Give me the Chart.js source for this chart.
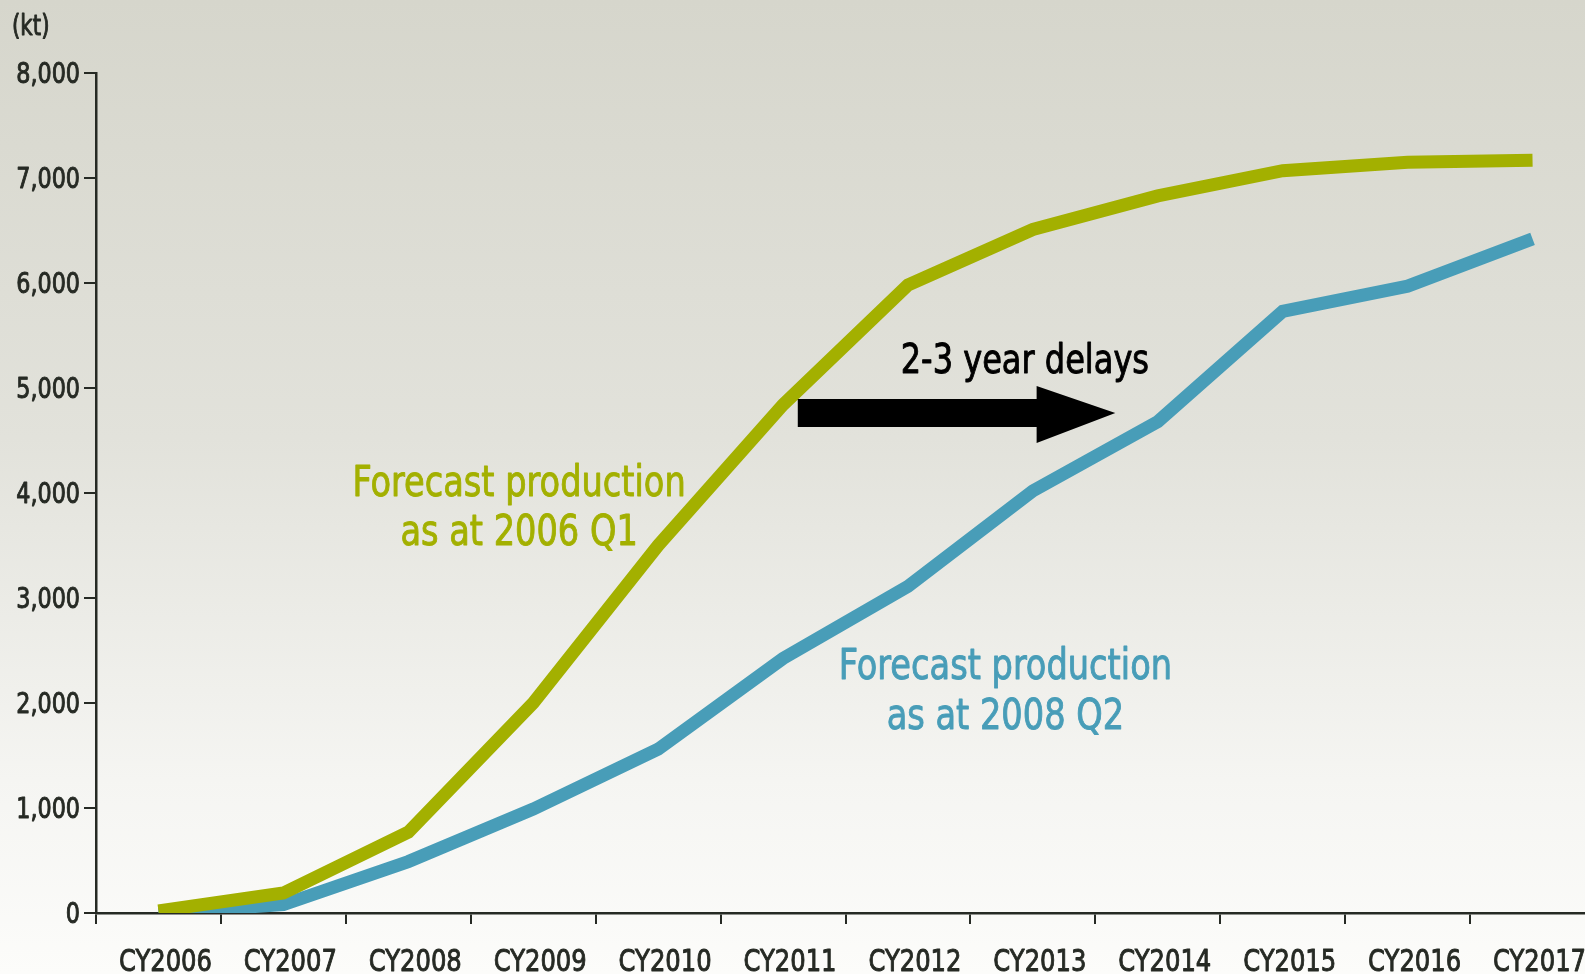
<!DOCTYPE html>
<html>
<head>
<meta charset="utf-8">
<script src="https://cdn.jsdelivr.net/npm/chart.js@4.4.1/dist/chart.umd.min.js"></script>
<style>
  html, body { margin: 0; padding: 0; overflow: hidden; }
  body {
    width: 1585px; height: 974px;
    background: linear-gradient(to bottom, #d6d6cc 0%, #e2e2db 45%, #f5f5f2 80%, #fcfcfa 100%);
  }
  #wrap { position: relative; width: 1595px; height: 974px; }
</style>
</head>
<body>
<div id="wrap"><canvas id="chart"></canvas></div>
<script>
const years = ["CY2006", "CY2007", "CY2008", "CY2009", "CY2010", "CY2011",
               "CY2012", "CY2013", "CY2014", "CY2015", "CY2016", "CY2017"];
// kt
const forecast2006Q1 = [20, 190, 770, 2000, 3500, 4840, 5980, 6510, 6830, 7070, 7150, 7170];
const forecast2008Q2 = [0, 80, 490, 990, 1560, 2425, 3110, 4020, 4680, 5730, 5970, 6420];
const yTicks = [0, 1000, 2000, 3000, 4000, 5000, 6000, 7000, 8000];

const FONT = "'DejaVu Sans Condensed', 'Liberation Sans Narrow', sans-serif";
const GREEN = "#a3b000";
const BLUE = "#489db8";
const INK = "#262a24";

// the original uses a tall, slightly heavy condensed face: squeeze and thicken a bit
function squeezed(ctx, text, x, y, sx, align) {
  ctx.save();
  ctx.translate(x, y);
  ctx.scale(sx, 1);
  ctx.textAlign = align;
  ctx.strokeStyle = ctx.fillStyle;
  ctx.lineWidth = 0.9;
  ctx.lineJoin = "round";
  ctx.fillText(text, 0, 0);
  ctx.strokeText(text, 0, 0);
  ctx.restore();
}

const notes = {
  id: "notes",
  afterDatasetsDraw(chart) {
    const { ctx, scales: { x, y } } = chart;
    const X = v => x.getPixelForValue(v);
    const Y = v => y.getPixelForValue(v);
    ctx.save();
    ctx.textBaseline = "alphabetic";

    // tick labels
    ctx.fillStyle = INK;
    ctx.font = "31px " + FONT;
    x.ticks.forEach((t, i) => squeezed(ctx, years[i], x.getPixelForTick(i) + 7, 971, 0.87, "center"));
    ctx.font = "27.5px " + FONT;
    y.ticks.forEach((t, i) => squeezed(ctx, t.value.toLocaleString("en-US"), 80, y.getPixelForTick(i) + 10, 0.9, "right"));

    ctx.font = "28px " + FONT;
    squeezed(ctx, "(kt)", 12, 35, 0.85, "left");

    ctx.font = "42px " + FONT;
    ctx.fillStyle = GREEN;
    squeezed(ctx, "Forecast production", X(2.887), Y(3971), 0.89, "center");
    squeezed(ctx, "as at 2006 Q1", X(2.887), Y(3505), 0.89, "center");
    ctx.fillStyle = BLUE;
    squeezed(ctx, "Forecast production", X(6.78), Y(2229), 0.89, "center");
    squeezed(ctx, "as at 2008 Q2", X(6.78), Y(1752), 0.89, "center");
    ctx.fillStyle = "#000";
    ctx.font = "40px " + FONT;
    squeezed(ctx, "2-3 year delays", X(6.936), Y(5143), 0.89, "center");

    // arrow
    ctx.beginPath();
    ctx.moveTo(X(5.118), Y(4895));
    ctx.lineTo(X(7.03), Y(4895));
    ctx.lineTo(X(7.03), Y(5019));
    ctx.lineTo(X(7.66), Y(4762));
    ctx.lineTo(X(7.03), Y(4476));
    ctx.lineTo(X(7.03), Y(4629));
    ctx.lineTo(X(5.118), Y(4629));
    ctx.closePath();
    ctx.fill();
    ctx.restore();
  }
};

new Chart(document.getElementById("chart"), {
  type: "line",
  data: {
    labels: years,
    datasets: [
      { label: "Forecast production as at 2006 Q1", data: forecast2006Q1, borderColor: GREEN },
      { label: "Forecast production as at 2008 Q2", data: forecast2008Q2, borderColor: BLUE }
    ]
  },
  options: {
    responsive: true,
    maintainAspectRatio: false,
    animation: false,
    layout: { padding: { top: 73, right: 0, bottom: 0, left: 0 } },
    elements: {
      line: { borderWidth: 13, tension: 0, borderJoinStyle: "miter", borderCapStyle: "butt" },
      point: { radius: 0 }
    },
    plugins: { legend: { display: false }, tooltip: { enabled: false } },
    scales: {
      x: {
        offset: true,
        grid: { offset: true, drawOnChartArea: false, tickLength: 11, color: INK, lineWidth: 2 },
        border: { color: INK, width: 2.5 },
        ticks: { color: "rgba(0,0,0,0)", font: { family: FONT, size: 31 }, maxRotation: 0, autoSkip: false },
        afterFit: s => { s.height = 61; }
      },
      y: {
        min: 0,
        max: 8000,
        afterBuildTicks: s => { s.ticks = yTicks.map(v => ({ value: v })); },
        grid: { drawOnChartArea: false, tickLength: 12, color: INK, lineWidth: 2 },
        border: { color: INK, width: 2.5 },
        ticks: { color: "rgba(0,0,0,0)", font: { family: FONT, size: 27 } },
        afterFit: s => { s.width = 96; }
      }
    }
  },
  plugins: [notes]
});
</script>
</body>
</html>
